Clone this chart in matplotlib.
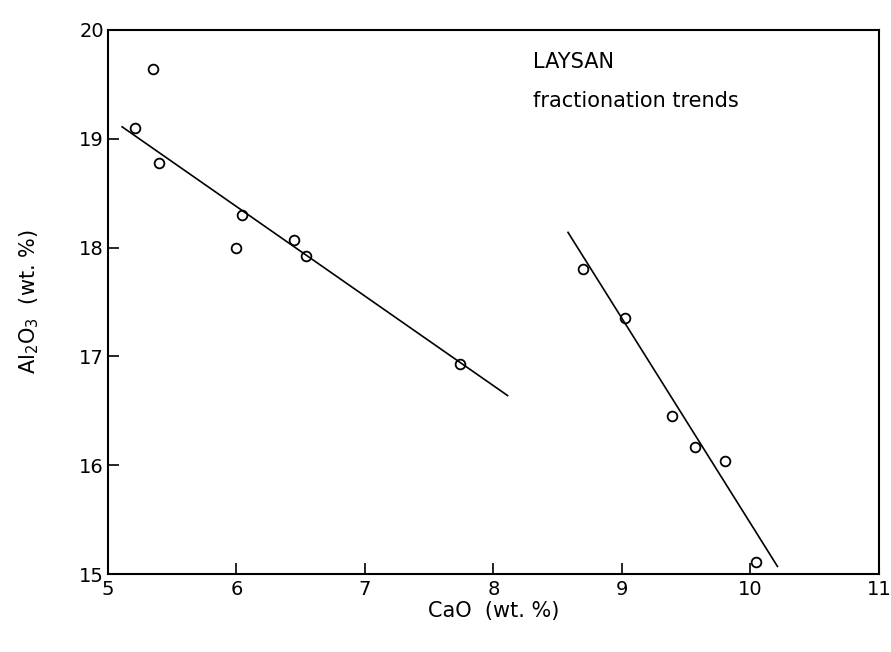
import numpy as np
import matplotlib.pyplot as plt

# sample points
cao = [5.21, 5.35, 5.40, 6.04, 6.00, 6.45, 6.54, 7.74,
       8.70, 9.02, 9.39, 9.57, 9.80, 10.04]
al2o3 = [19.10, 19.64, 18.78, 18.30, 18.00, 18.07, 17.92, 16.93,
         17.80, 17.35, 16.45, 16.17, 16.04, 15.11]

# fractionation trend lines (end points)
trend1_x = [5.11, 8.11]
trend1_y = [19.11, 16.64]
trend2_x = [8.58, 10.21]
trend2_y = [18.14, 15.07]

x_ticks = [5, 6, 7, 8, 9, 10, 11]
x_labels = ['5', '6', '7', '8', '9', '10', '11']
y_ticks = [15, 16, 17, 18, 19, 20]
y_labels = ['15', '16', '17', '18', '19', '20']

plt.rcParams['font.family'] = ['DejaVu Sans']

fig = plt.figure(figsize=(8.91, 6.52), dpi=100)
ax = fig.add_axes([0.1212, 0.1196, 0.8653, 0.8344])

ax.plot(trend1_x, trend1_y, color='black', lw=1.2)
ax.plot(trend2_x, trend2_y, color='black', lw=1.2)
ax.plot(cao, al2o3, 'o', ms=7, mfc='none', mec='black', mew=1.3)

ax.set_xlim(5, 11)
ax.set_ylim(15, 20)
ax.set_xticks(x_ticks)
ax.set_xticklabels(x_labels)
ax.set_yticks(y_ticks)
ax.set_yticklabels(y_labels)
ax.tick_params(direction='in', length=8, width=1.2, labelsize=14)
ax.tick_params(axis='x', pad=4)
ax.tick_params(axis='y', pad=3)
for s in ax.spines.values():
    s.set_linewidth(1.5)

ax.set_xlabel('CaO  (wt. %)', fontsize=15)
ax.xaxis.set_label_coords(0.5, -0.05)
ax.set_ylabel('Al$_2$O$_3$  (wt. %)', fontsize=15, labelpad=27)

ax.text(0.551, 0.93, 'LAYSAN', transform=ax.transAxes, fontsize=15)
ax.text(0.551, 0.858, 'fractionation trends', transform=ax.transAxes, fontsize=15)

fig.savefig('out.png', dpi=100)
